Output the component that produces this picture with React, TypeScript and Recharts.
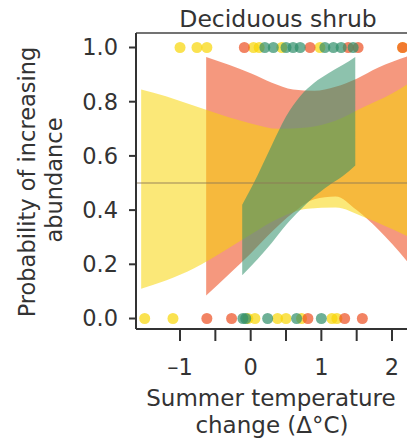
import React from "react";
import { ComposedChart, Area, Scatter, XAxis, YAxis, ReferenceLine } from "recharts";

// confidence bands
const yellowX = [-1.55, -1.2, -0.8, -0.4, 0.0, 0.4, 0.8, 1.2, 1.6, 2.0, 2.25];
const yellowLo = [0.11, 0.14, 0.185, 0.245, 0.31, 0.37, 0.405, 0.41, 0.375, 0.33, 0.3];
const yellowHi = [0.845, 0.82, 0.785, 0.75, 0.72, 0.7, 0.705, 0.73, 0.78, 0.83, 0.87];

const salmonX = [-0.63, -0.3, 0.0, 0.3, 0.6, 0.9, 1.2, 1.5, 1.8, 2.25];
const salmonLo = [0.085, 0.165, 0.24, 0.32, 0.39, 0.44, 0.45, 0.4, 0.33, 0.2];
const salmonHi = [0.965, 0.935, 0.905, 0.87, 0.845, 0.84, 0.855, 0.885, 0.925, 0.97];

const greenX = [-0.12, 0.1, 0.3, 0.5, 0.7, 0.9, 1.1, 1.3, 1.48];
const greenLo = [0.16, 0.22, 0.28, 0.345, 0.4, 0.45, 0.49, 0.525, 0.565];
const greenHi = [0.42, 0.53, 0.64, 0.745, 0.82, 0.87, 0.905, 0.935, 0.965];

// observations (temperature change) at 1 and 0
const topYellow = [-1.0, -0.76, -0.62, 0.04, 0.12, 0.44, 0.98, 2.15];
const topSalmon = [-0.09, 0.84, 1.38, 1.52, 2.15];
const topGreen = [0.2, 0.32, 0.5, 0.6, 0.7, 1.05, 1.17, 1.28, 1.45];
const botYellow = [-1.5, -1.1, -0.04, 0.06, 0.38, 0.5, 0.72, 1.15, 1.22];
const botSalmon = [-0.62, -0.27, 0.81, 1.33, 1.58];
const botGreen = [-0.11, -0.07, 0.24, 0.65, 1.0];

const xTicks = [-1, -0.5, 0, 0.5, 1, 1.5, 2];
const yTicks = [0, 0.2, 0.4, 0.6, 0.8, 1.0];

const YELLOW = "#f8d505";
const SALMON = "#ed4e21";
const GREEN = "#2f8f6a";
const INK = "#333";
const FONT = "'DejaVu Sans', sans-serif";

const band = (xs: number[], lo: number[], hi: number[]) =>
  xs.map((x, i) => ({ x, r: [lo[i], hi[i]] }));
const pts = (xs: number[], y: number) => xs.map((x) => ({ x, y }));

const dot = (color: string) => (p: any) =>
  <circle cx={p.cx} cy={p.cy} r={5.5} fill={color} fillOpacity={0.7} />;

const fmtX = (v: number) =>
  Number.isInteger(v) ? (v < 0 ? "\u2013" + Math.abs(v) : String(v)) : "";

export default function App() {
  return (
    <div style={{ position: "fixed", left: 0, top: 0, width: 407, height: 438, overflow: "hidden", background: "#fff" }}>
      <ComposedChart width={407} height={438} margin={{ top: 33, right: 0, bottom: 0, left: 0 }} style={{ fontFamily: FONT }}>
        <XAxis
          type="number"
          dataKey="x"
          domain={[-1.623, 2.212]}
          allowDataOverflow
          ticks={xTicks}
          tickFormatter={fmtX}
          height={109}
          tickSize={12}
          tickMargin={18}
          axisLine={{ stroke: INK, strokeWidth: 2 }}
          tickLine={{ stroke: INK, strokeWidth: 2 }}
          tick={{ fill: INK, fontSize: 22.5, fontFamily: FONT }}
          label={{
            content: () => (
              <g fill={INK} fontSize={23} fontFamily={FONT} textAnchor="middle">
                <text x={271} y={405.5}>Summer temperature</text>
                <text x={272} y={432.5}>change (Δ°C)</text>
              </g>
            ),
          }}
        />
        <YAxis
          type="number"
          domain={[-0.0387, 1.0535]}
          allowDataOverflow
          ticks={yTicks}
          tickFormatter={(v: number) => v.toFixed(1)}
          width={136}
          tickSize={7}
          tickMargin={11}
          axisLine={{ stroke: INK, strokeWidth: 2 }}
          tickLine={{ stroke: INK, strokeWidth: 2 }}
          tick={{ fill: INK, fontSize: 22.5, fontFamily: FONT }}
          label={{
            content: () => (
              <g fill={INK} fontFamily={FONT} textAnchor="middle">
                <text x={35} y={182} fontSize={22.5} transform="rotate(-90 35 182)">Probability of increasing</text>
                <text x={62} y={180} fontSize={22.5} transform="rotate(-90 62 180)">abundance</text>
                <text x={278} y={27} fontSize={23.5}>Deciduous shrub</text>
              </g>
            ),
          }}
        />
        <Area data={band(salmonX, salmonLo, salmonHi)} dataKey="r" type="monotone" stroke="none" fill={SALMON} fillOpacity={0.58} isAnimationActive={false} />
        <Area data={band(yellowX, yellowLo, yellowHi)} dataKey="r" type="monotone" stroke="none" fill={YELLOW} fillOpacity={0.54} isAnimationActive={false} />
        <Area data={band(greenX, greenLo, greenHi)} dataKey="r" type="monotone" stroke="none" fill={GREEN} fillOpacity={0.55} isAnimationActive={false} />
        <ReferenceLine y={0.5} stroke="#8c7a55" strokeOpacity={0.6} strokeWidth={1.5} />
        <ReferenceLine y={1.0535} stroke="#444" strokeWidth={1.5} />
        <Scatter data={pts(topYellow, 1)} dataKey="y" shape={dot(YELLOW)} isAnimationActive={false} />
        <Scatter data={pts(botYellow, 0)} dataKey="y" shape={dot(YELLOW)} isAnimationActive={false} />
        <Scatter data={pts(topSalmon, 1)} dataKey="y" shape={dot(SALMON)} isAnimationActive={false} />
        <Scatter data={pts(botSalmon, 0)} dataKey="y" shape={dot(SALMON)} isAnimationActive={false} />
        <Scatter data={pts(topGreen, 1)} dataKey="y" shape={dot(GREEN)} isAnimationActive={false} />
        <Scatter data={pts(botGreen, 0)} dataKey="y" shape={dot(GREEN)} isAnimationActive={false} />
      </ComposedChart>
    </div>
  );
}
